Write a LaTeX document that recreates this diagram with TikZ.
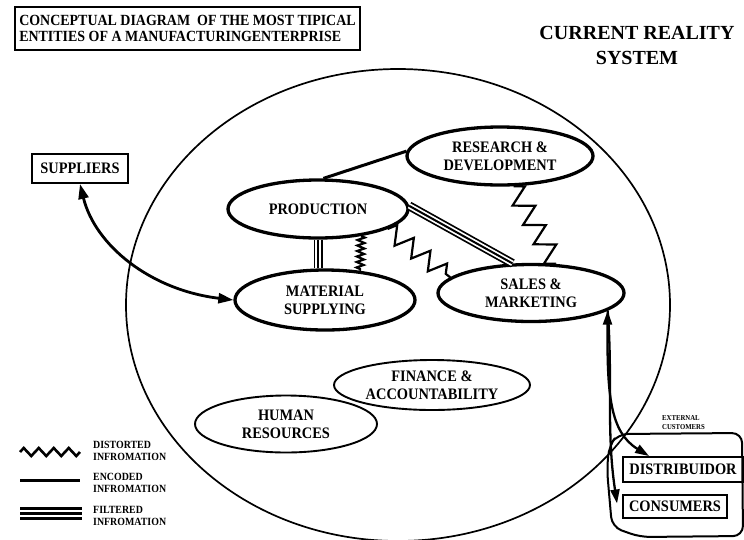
\documentclass[tikz,border=0pt]{standalone}
\usepackage{fontspec}
\setmainfont{Liberation Serif}
\newfontfamily\narrowserif[FakeStretch=0.9]{Liberation Serif}
\usetikzlibrary{shapes.geometric,arrows.meta,decorations.pathmorphing}
\begin{document}
\begin{tikzpicture}[x=1pt,y=-1pt,
  >={Triangle[length=14pt, width=9pt]},
  ent/.style={ellipse, draw, line width=3.3pt, inner sep=0pt, align=center,
    font=\narrowserif\fontsize{16}{18}\selectfont\bfseries},
  entthin/.style={ent, line width=1.9pt},
  boxed/.style={draw, line width=1.9pt, inner sep=0pt,
    font=\narrowserif\fontsize{16}{16}\selectfont\bfseries},
  legtext/.style={anchor=west, align=left, inner sep=0pt,
    font=\narrowserif\fontsize{11}{12.5}\selectfont\bfseries},
  enc/.style={line width=3pt},
  filt/.style={line width=9pt, postaction={draw=white, line width=5.5pt},
    postaction={draw=black, line width=2pt}},
  distorted/.style 2 args={line width=2.2pt, decorate,
    decoration={zigzag, segment length=#1, amplitude=#2}}
]
\fill[white] (0,0) rectangle (744,539);
\useasboundingbox (0,0) rectangle (744,539);

% enterprise boundary
\draw[line width=1.7pt] (398,305) ellipse [x radius=272, y radius=236];

% headings
\node[boxed, font=\narrowserif\fontsize{15.5}{16}\selectfont\bfseries,
  minimum width=345pt, minimum height=43pt, align=left] (title) at (187.5,28.5)
  {CONCEPTUAL DIAGRAM~ OF THE MOST TIPICAL\\ENTITIES OF A MANUFACTURINGENTERPRISE};
\node[font=\fontsize{20}{25}\selectfont\bfseries, align=center] (crs) at (637,45)
  {CURRENT REALITY\\SYSTEM};

% internal entities
\node[ent, minimum width=180pt, minimum height=58pt] (prod) at (318,209) {PRODUCTION};
\node[ent, minimum width=186pt, minimum height=58pt] (rd) at (500,156) {RESEARCH \&\\DEVELOPMENT};
\node[ent, minimum width=180pt, minimum height=60pt] (mat) at (325,300) {MATERIAL\\SUPPLYING};
\node[ent, minimum width=186pt, minimum height=57pt] (sales) at (531,293) {SALES \&\\MARKETING};
\node[entthin, minimum width=196pt, minimum height=50pt] (fin) at (432,385) {FINANCE \&\\ACCOUNTABILITY};
\node[entthin, minimum width=182pt, minimum height=57pt] (hr) at (286,424) {HUMAN\\RESOURCES};

% external entities
\node[boxed, minimum width=96pt, minimum height=29pt] (supp) at (80,168.5) {SUPPLIERS};
\node[boxed, minimum width=120pt, minimum height=25pt] (distr) at (683,469.5) {DISTRIBUIDOR};
\node[boxed, minimum width=104pt, minimum height=23pt] (cons) at (675,506.5) {CONSUMERS};
\node[font=\narrowserif\fontsize{7.5}{9}\selectfont\bfseries, align=left, anchor=west, inner sep=0pt]
  (ext) at (662,423) {EXTERNAL\\CUSTOMERS};
\draw[line width=2pt, rounded corners=10pt]
  (607,470) -- (609,446) -- (618,434) -- (742,433) -- (743,536) -- (640,537) -- (612,527) -- cycle;

% information flows
\draw[enc] (prod.80) -- (rd.177);
\draw[filt] (prod.south) -- (prod.south |- mat.north);
\draw[distorted={5.5pt}{3.5pt}] (prod.-32) -- (mat.40);
\draw[distorted={21pt}{9pt}] (prod.-16) -- (sales.169);
\draw[filt] (prod.2) -- (sales.122);
\draw[distorted={22pt}{10pt}] (rd.-66) -- (sales.50);

\draw[line width=2.8pt, {Triangle[length=15pt,width=10pt]}-{Triangle[length=15pt,width=10pt]}]
  (supp.south) .. controls (95,245) and (150,290) .. (mat.west);
\draw[line width=2.3pt, <->]
  (sales.-13) .. controls (607,395) and (610,432) .. ([xshift=27pt]distr.north west);
\draw[line width=2.3pt, ->]
  (sales.-13) .. controls (613,380) and (606,430) .. ([shift={(-5,-3)}]cons.west);

% legend
\draw[line width=2.6pt, decorate, decoration={zigzag, segment length=15pt, amplitude=4pt}]
  (20,452) -- (80,452);
\draw[enc] (20,480) -- (80,480);
\draw[line width=3pt] (20,508) -- (82,508) (20,513) -- (82,513) (20,518) -- (82,518);
\node[legtext] (lg1) at (93,451) {DISTORTED\\INFROMATION};
\node[legtext] (lg2) at (93,483) {ENCODED\\INFROMATION};
\node[legtext] (lg3) at (93,516) {FILTERED\\INFROMATION};
\end{tikzpicture}
\end{document}
